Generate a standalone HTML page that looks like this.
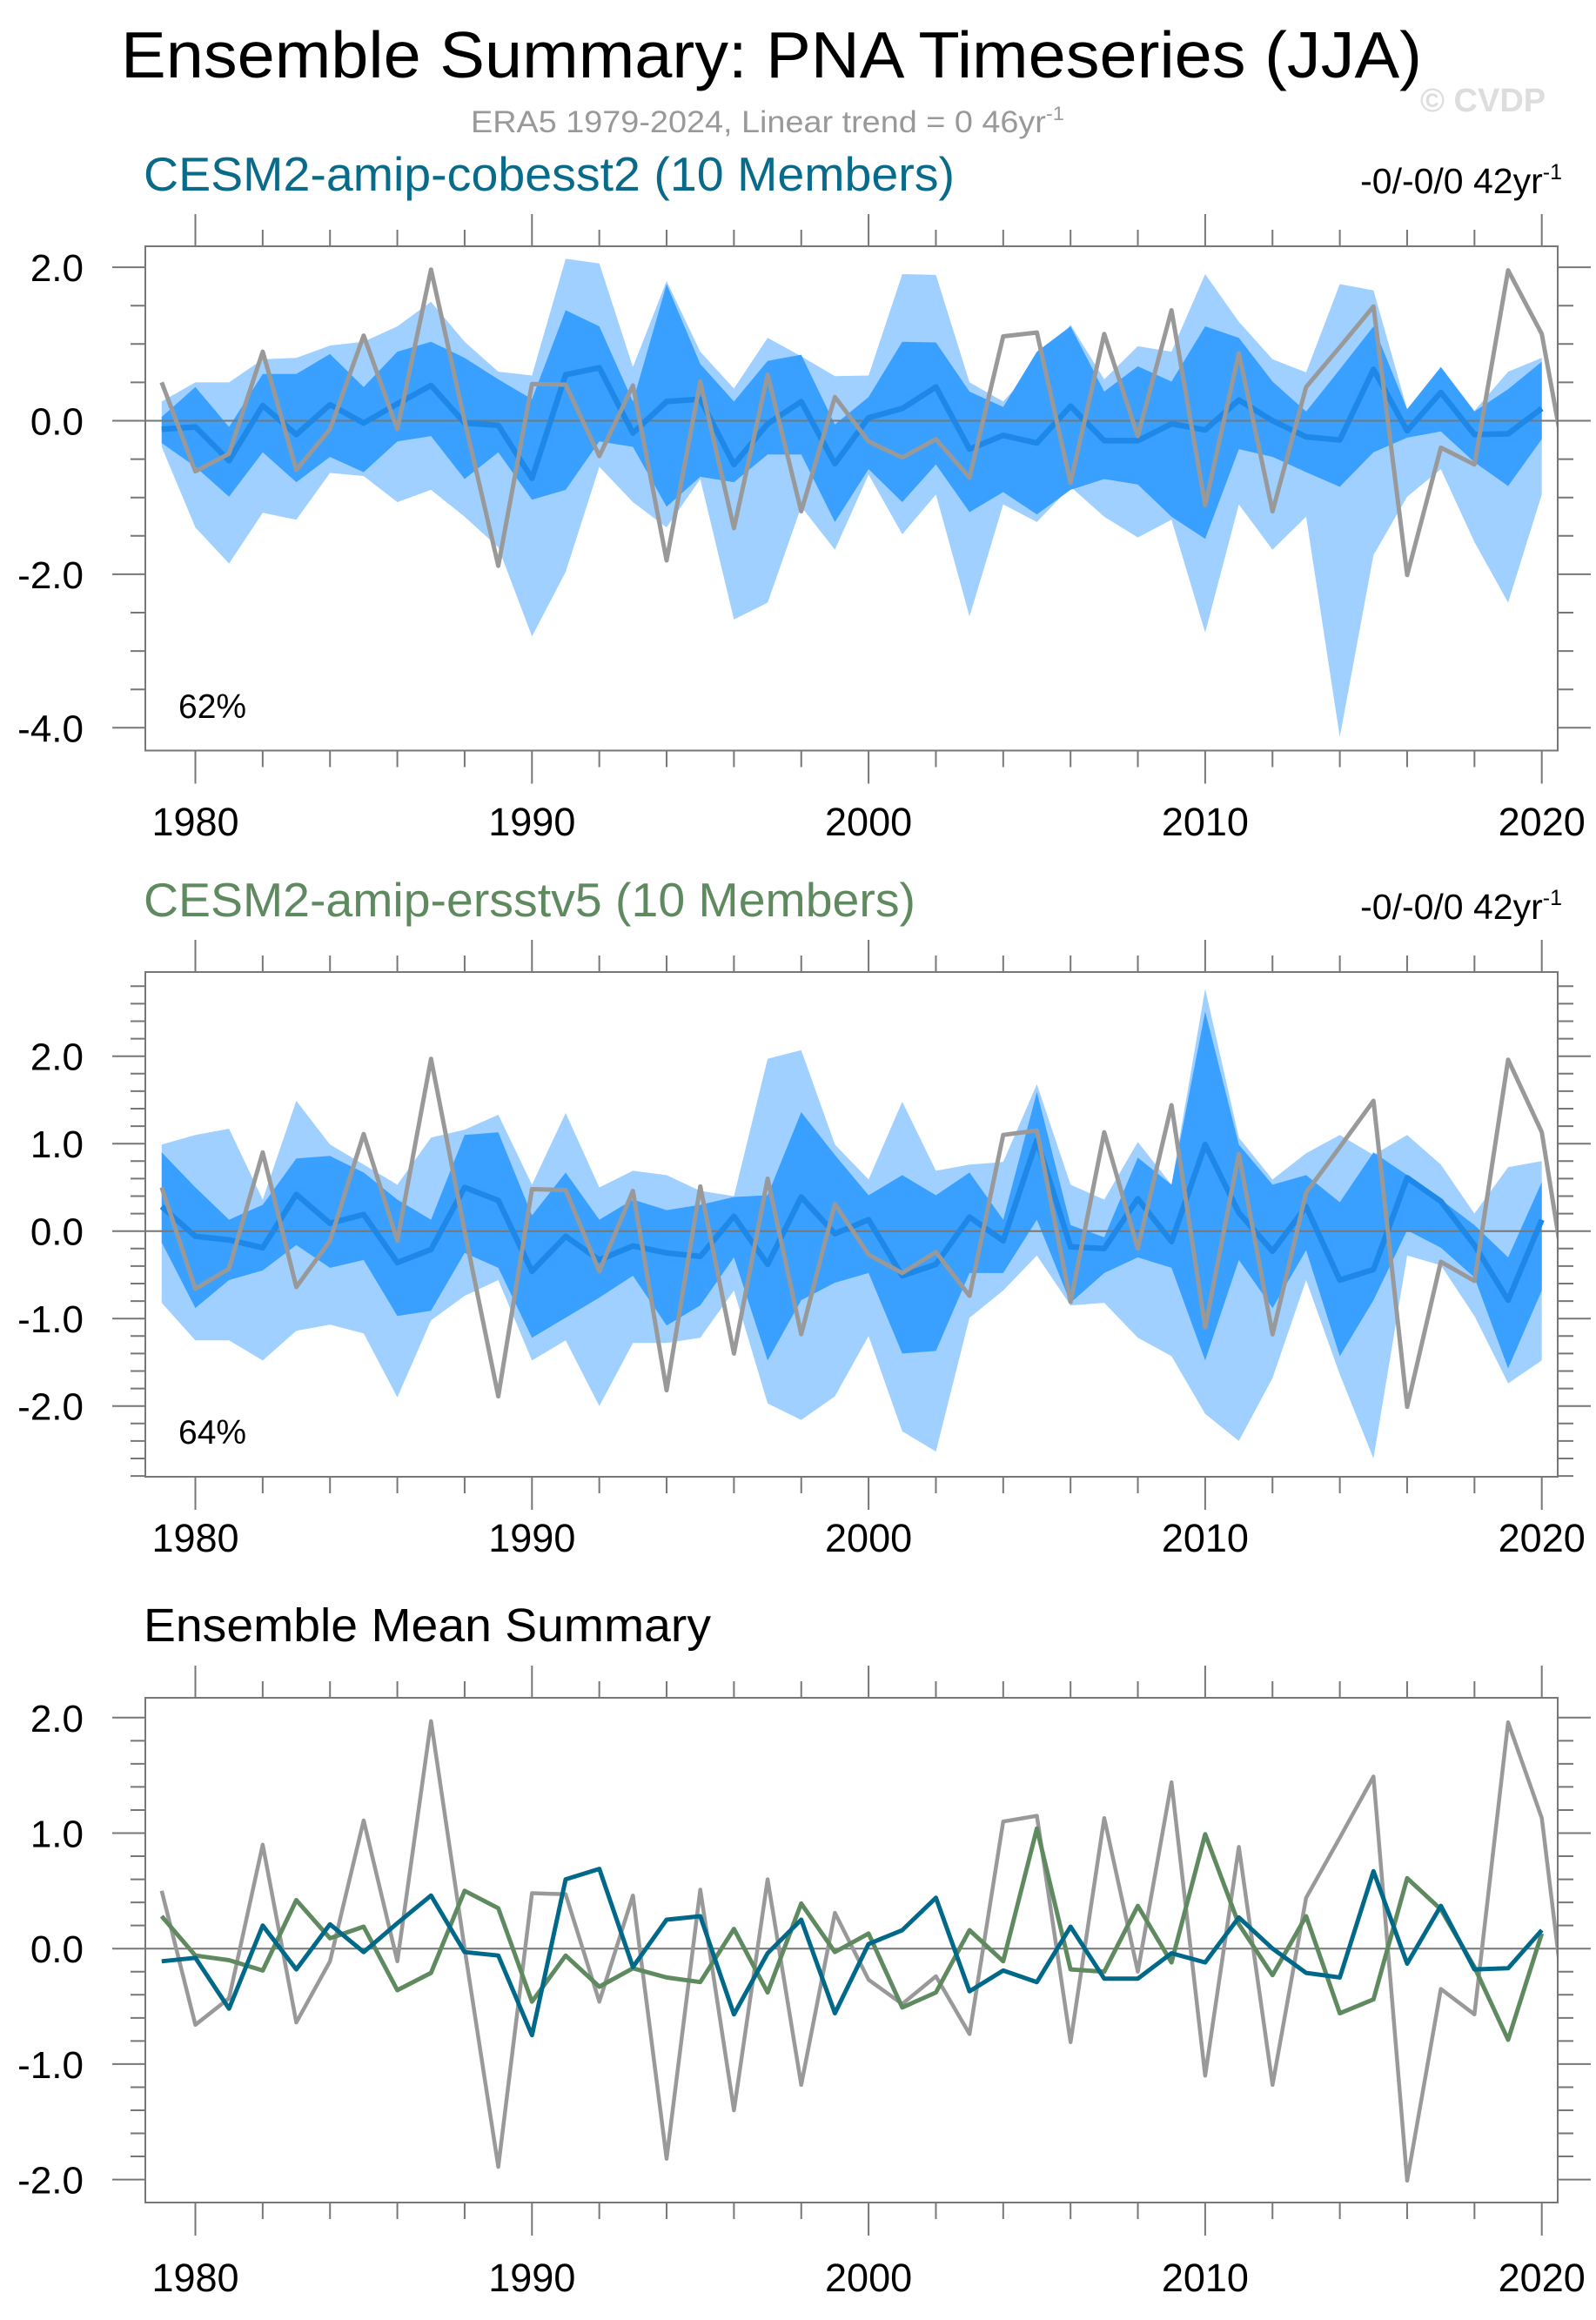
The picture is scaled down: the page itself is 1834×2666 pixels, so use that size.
<!DOCTYPE html>
<html><head><meta charset="utf-8"><style>
html,body{margin:0;padding:0;background:#fff}
svg{display:block;font-family:"Liberation Sans",Arial,sans-serif}
</style></head><body>
<svg id="fig" width="1834" height="2666" viewBox="0 0 1834 2666" xmlns="http://www.w3.org/2000/svg">
<text x="139" y="89" font-size="75" fill="#000" textLength="1495" lengthAdjust="spacingAndGlyphs">Ensemble Summary: PNA Timeseries (JJA)</text>
<text x="541" y="152" font-size="35" fill="#999" textLength="682" lengthAdjust="spacingAndGlyphs">ERA5 1979-2024, Linear trend = 0 46yr<tspan dy="-14" font-size="22">-1</tspan></text>
<text x="1632" y="128" font-size="38" font-weight="bold" fill="#ddd">© CVDP</text>
<g id="p1"></g>
<g id="p2"></g>
<g id="p3"></g>
</svg>
<script>
const years = [1979,1980,1981,1982,1983,1984,1985,1986,1987,1988,1989,1990,1991,1992,1993,1994,1995,1996,1997,1998,1999,2000,2001,2002,2003,2004,2005,2006,2007,2008,2009,2010,2011,2012,2013,2014,2015,2016,2017,2018,2019,2020];
const era5Years = years.concat([2021]);
const era5 = [0.50,-0.66,-0.43,0.90,-0.64,-0.11,1.11,-0.11,1.97,0.0,-1.89,0.48,0.47,-0.46,0.46,-1.82,0.51,-1.40,0.60,-1.18,0.31,-0.27,-0.48,-0.24,-0.74,1.10,1.15,-0.81,1.13,-0.20,1.44,-1.10,0.88,-1.18,0.44,0.96,1.49,-2.01,-0.35,-0.57,1.96,1.13,-1.27];
const cobMean = [-0.11,-0.08,-0.52,0.20,-0.18,0.21,-0.03,0.22,0.46,-0.03,-0.06,-0.75,0.60,0.69,-0.16,0.25,0.28,-0.57,-0.04,0.25,-0.56,0.04,0.16,0.44,-0.37,-0.19,-0.29,0.19,-0.26,-0.26,-0.04,-0.12,0.27,0.0,-0.21,-0.25,0.67,-0.13,0.37,-0.18,-0.17,0.16];
const ersMean = [0.28,-0.06,-0.10,-0.19,0.42,0.09,0.19,-0.36,-0.21,0.50,0.35,-0.46,-0.06,-0.33,-0.17,-0.25,-0.29,0.17,-0.38,0.39,-0.03,0.13,-0.51,-0.38,0.16,-0.11,1.04,-0.18,-0.20,0.37,-0.12,0.99,0.21,-0.23,0.28,-0.56,-0.44,0.61,0.34,-0.16,-0.79,0.13];
const cobMax = [0.25,0.5,0.5,0.8,0.82,0.98,1.03,1.23,1.55,1.03,0.64,0.59,2.11,2.05,0.7,1.82,0.9,0.42,1.08,0.84,0.58,0.59,1.91,1.9,0.5,0.25,0.74,1.25,0.54,0.97,0.9,1.91,1.29,0.8,0.63,1.78,1.7,0.15,0.7,0.13,0.64,0.82];
const cobMin = [-0.34,-1.39,-1.86,-1.2,-1.29,-0.68,-0.72,-1.06,-0.9,-1.25,-1.65,-2.81,-1.97,-0.6,-1.06,-1.39,-0.76,-2.59,-2.37,-1.12,-1.68,-0.7,-1.48,-0.96,-2.55,-1.09,-1.32,-0.86,-1.25,-1.52,-1.29,-2.76,-1.09,-1.68,-1.25,-4.12,-1.75,-0.99,-0.63,-1.58,-2.37,-0.96];
const cobHi = [0.05,0.44,-0.08,0.61,0.61,0.87,0.44,0.9,1.03,0.82,0.54,0.28,1.44,1.23,0.25,1.78,0.74,0.25,0.78,0.86,-0.05,0.31,1.03,1.02,0.38,0.18,0.9,1.23,0.38,0.71,0.51,1.23,1.08,0.51,0.12,0.67,1.23,0.15,0.7,0.12,0.41,0.77];
const cobLo = [-0.29,-0.6,-0.99,-0.41,-0.8,-0.47,-0.67,-0.27,-0.2,-0.76,-0.41,-1.03,-0.9,-0.27,-0.34,-1.12,-0.73,-0.8,-0.44,-0.44,-1.32,-0.63,-1.06,-0.57,-1.19,-0.93,-1.22,-0.9,-0.76,-0.83,-1.25,-1.54,-0.37,-0.47,-0.67,-0.86,-0.41,-0.22,-0.14,-0.54,-0.85,-0.24];
const ersMax = [0.99,1.1,1.17,0.36,1.49,0.99,0.76,0.53,1.07,1.16,1.33,0.53,1.35,0.5,0.69,0.64,0.46,0.4,1.97,2.07,0.99,0.59,1.48,0.69,0.76,0.79,1.68,0.53,0.36,1.02,0.53,2.77,1.07,0.59,0.89,1.1,0.87,1.1,0.76,0.2,0.73,0.8];
const ersMin = [-0.82,-1.25,-1.25,-1.48,-1.14,-1.07,-1.17,-1.9,-1.02,-0.74,-0.56,-1.48,-1.25,-2.0,-1.28,-1.28,-1.22,-0.68,-1.97,-2.16,-1.89,-1.2,-2.29,-2.52,-0.99,-0.68,-0.28,-0.85,-0.82,-1.22,-1.43,-2.09,-2.4,-1.68,-0.56,-1.64,-2.6,-0.28,-0.39,-0.97,-1.74,-1.48];
const ersHi = [0.9,0.5,0.13,0.3,0.83,0.86,0.67,0.36,0.13,1.1,1.13,0.18,0.67,0.13,0.36,0.24,0.3,0.39,0.41,1.36,0.87,0.41,0.64,0.41,0.67,0.13,1.59,0.07,-0.07,0.84,0.53,2.51,0.99,0.53,0.64,0.33,0.9,0.64,0.36,0.07,-0.3,0.56];
const ersLo = [-0.13,-0.88,-0.56,-0.45,-0.16,-0.42,-0.33,-0.97,-0.91,-0.25,-0.42,-1.22,-0.99,-0.76,-0.51,-1.08,-0.85,-0.3,-1.48,-0.79,-0.59,-0.48,-1.4,-1.37,-0.48,-0.48,0.13,-0.82,-0.48,-0.3,-0.42,-1.48,-0.33,-0.88,-0.22,-1.43,-0.79,0.01,-0.19,-0.53,-1.57,-0.68];
const xTickYears = [1980,1990,2000,2010,2020];
const xTickLabels = ["1980","1990","2000","2010","2020"];
const p1Ticks = [2,0,-2,-4];
const p1TickLabels = ["2.0","0.0","-2.0","-4.0"];
const p23Ticks = [2,1,0,-1,-2];
const p23TickLabels = ["2.0","1.0","0.0","-1.0","-2.0"];

const NS="http://www.w3.org/2000/svg";
const X0=167, X1=1790;
function xs(yr){return 224.5+38.68*(yr-1980);}
function mk(parent,tag,attrs){const e=document.createElementNS(NS,tag);for(const k in attrs)e.setAttribute(k,attrs[k]);parent.appendChild(e);return e;}

function panel(id,cfg){
  const g=document.getElementById(id);
  const ys=v=>cfg.zero-cfg.unit*v;
  const cid='clip'+id;
  const cp=mk(g,'clipPath',{id:cid});
  mk(cp,'rect',{x:X0,y:cfg.top,width:X1-X0,height:cfg.bot-cfg.top});
  const plot=mk(g,'g',{'clip-path':'url(#'+cid+')'});
  
  
  function band(lo,hi,col,name){
    let d='M'+years.map((y,i)=>xs(y).toFixed(1)+','+ys(hi[i]).toFixed(1)).join('L');
    for(let i=years.length-1;i>=0;i--)d+='L'+xs(years[i]).toFixed(1)+','+ys(lo[i]).toFixed(1);
    const p=mk(plot,'path',{d:d+'Z',fill:col});
    
    
  }
  function line(xv,vals,col,w,name){
    const p=mk(plot,'polyline',{points:xv.map((y,i)=>xs(y).toFixed(1)+','+ys(vals[i]).toFixed(1)).join(' '),fill:'none',stroke:col,'stroke-width':w,'stroke-linejoin':'round'});
    
    
  }
  if(cfg.bands){
    band(cfg.bands[0],cfg.bands[1],'#a0d0ff','min-max-range');
    band(cfg.bands[2],cfg.bands[3],'#3aa0ff','percentile-range');
  }
  const zl=mk(plot,'line',{x1:X0,x2:X1,y1:ys(0),y2:ys(0),stroke:'#777','stroke-width':2});
  
  
  if(cfg.bands){
    line(years,cfg.mean,'#1e88e8',6.5,'ensemble-mean-line');
    line(era5Years,era5,'#999',5,'era5-line');
  } else {
    line(era5Years,era5,'#999',4.5,'era5-line');
    line(years,ersMean,'#5f8a60',5,'ersstv5-mean-line');
    line(years,cobMean,'#006888',5,'cobesst2-mean-line');
  }
  const fr=mk(g,'rect',{x:X0,y:cfg.top,width:X1-X0,height:cfg.bot-cfg.top,fill:'none',stroke:'#777','stroke-width':2});
  
  
  for(let yr=1980;yr<=2020;yr+=2){
    const maj=yr%10===0, x=xs(yr);
    mk(g,'line',{x1:x,x2:x,y1:cfg.top,y2:cfg.top-(maj?37:19),stroke:'#777','stroke-width':2});
    mk(g,'line',{x1:x,x2:x,y1:cfg.bot,y2:cfg.bot+(maj?38:19),stroke:'#777','stroke-width':2});
  }
  xTickYears.forEach((yr,i)=>{
    const t=mk(g,'text',{x:xs(yr),y:cfg.xlab,'text-anchor':'middle','font-size':45});
    t.textContent=xTickLabels[i];
    
    
  });
  const vTop=(cfg.zero-cfg.top)/cfg.unit, vBot=(cfg.zero-cfg.bot)/cfg.unit;
  for(let k=Math.ceil(vBot/cfg.minor-1e-6);k*cfg.minor<=vTop+1e-6;k++){
    const v=k*cfg.minor, y=ys(v);
    const maj=Math.abs(v/cfg.major-Math.round(v/cfg.major))<1e-6;
    mk(g,'line',{x1:X0,x2:X0-(maj?38:17),y1:y,y2:y,stroke:'#777','stroke-width':2});
    mk(g,'line',{x1:X1,x2:X1+(maj?38:18),y1:y,y2:y,stroke:'#777','stroke-width':2});
  }
  cfg.ticks.forEach((v,i)=>{
    const t=mk(g,'text',{x:96,y:ys(v)+16,'text-anchor':'end','font-size':44});
    t.textContent=cfg.tickLabels[i];
    
    
  });
  if(cfg.title){
    const t=mk(g,'text',{x:165,y:cfg.titleY,'font-size':cfg.titleSize,fill:cfg.titleColor,textLength:cfg.titleLen,lengthAdjust:'spacingAndGlyphs'});
    t.textContent=cfg.title;
    
    
  }
  if(cfg.trend){
    const t=mk(g,'text',{x:1795,y:cfg.titleY+3,'font-size':41,'text-anchor':'end'});
    t.innerHTML='-0/-0/0 42yr<tspan dy="-16" font-size="25">-1</tspan>';
    
    
  }
  if(cfg.pct){
    const t=mk(g,'text',{x:205,y:cfg.pctY,'font-size':39});
    t.textContent=cfg.pct;
    
    
  }
}
panel('p1',{top:283,bot:862.5,zero:483.5,unit:88.2,minor:0.5,major:2,ticks:p1Ticks,tickLabels:p1TickLabels,xlab:960,
  bands:[cobMin,cobMax,cobLo,cobHi],mean:cobMean,title:'CESM2-amip-cobesst2 (10 Members)',titleY:219,titleSize:55,titleLen:932,titleColor:'#0a6a8a',trend:true,pct:'62%',pctY:825});
panel('p2',{top:1117,bot:1697,zero:1414.7,unit:100.5,minor:0.2,major:1,ticks:p23Ticks,tickLabels:p23TickLabels,xlab:1783,
  bands:[ersMin,ersMax,ersLo,ersHi],mean:ersMean,title:'CESM2-amip-ersstv5 (10 Members)',titleY:1053,titleSize:55,titleLen:887,titleColor:'#5f8a60',trend:true,pct:'64%',pctY:1659});
panel('p3',{top:1951,bot:2531,zero:2239.2,unit:132.7,minor:0.2,major:1,ticks:p23Ticks,tickLabels:p23TickLabels,xlab:2633,
  bands:null,title:'Ensemble Mean Summary',titleY:1886,titleSize:54,titleLen:652,titleColor:'#000'});
</script>
</body></html>
